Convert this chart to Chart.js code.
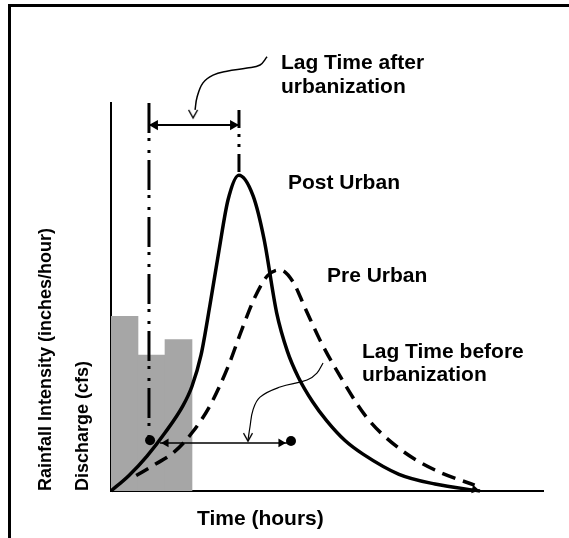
<!DOCTYPE html>
<html>
<head>
<meta charset="utf-8">
<script src="https://cdn.jsdelivr.net/npm/chart.js@4.4.1/dist/chart.umd.min.js"></script>
<style>
  html, body { margin: 0; padding: 0; background: #fff; }
  #wrap { position: relative; width: 569px; height: 538px; overflow: hidden; }
  #frame { position: absolute; left: 8px; top: 4px; width: 600px; height: 600px; border-top: 3px solid #000; border-left: 3px solid #000; }
  canvas { position: absolute; left: 0; top: 0; }
</style>
</head>
<body>
<div id="wrap">
  <div id="frame"></div>
  <canvas id="myChart" width="569" height="538"></canvas>
</div>
<script>
// Hietograma (bloques de lluvia)
const rainTime = [0.75, 2.25, 3.75];
const rainIntensity = [45, 35, 39];

// Hidrograma post urbano
const postTime = [0, 1, 2, 3, 4, 4.5, 5, 5.5, 6, 6.5, 7.1, 7.9, 8.5, 9.2, 9.8, 10.4, 11.2, 12, 13, 14, 16, 18, 20.5];
const postFlow = [0, 4, 9, 15, 22, 27, 35, 48, 62, 75, 81.4, 76, 65, 46, 36, 29.4, 23, 18, 13, 9.5, 4.3, 1.8, 0];

// Hidrograma pre urbano
const preTime = [1.4, 2.5, 3.5, 4.5, 5.5, 6.5, 7.3, 8, 8.7, 9.4, 10.1, 10.8, 11.6, 12.8, 14.2, 16, 18, 20.2];
const preFlow = [4, 7, 10, 15, 22, 32, 42, 50, 55.5, 57, 54, 47, 39, 29, 19, 11, 5.4, 1.5];

// Tiempos de retardo
const rainCenterTime = 2.11;
const postPeakTime = 7.11;
const prePeakTime = 10.0;
const lagAfterLevel = 94.3;
const lagBeforeLevel = 12.4;

// Flechas curvas de las notas
const noteAfterX = [4.67, 4.78, 5.11, 5.67, 6.44, 7.56, 8.28, 8.67];
const noteAfterY = [98.2, 101.5, 105.2, 107.2, 108.2, 109.0, 109.8, 111.9];
const noteBeforeX = [7.61, 7.72, 7.89, 8.28, 9.39, 10.89, 11.44, 11.78];
const noteBeforeY = [13.1, 16.5, 20.9, 24.2, 26.8, 28.6, 30.4, 33.0];

const notes = [
    { text: 'Lag Time after', x: 9.44, y: 108.8 },
    { text: 'urbanization', x: 9.44, y: 102.6 },
    { text: 'Post Urban', x: 9.83, y: 77.8 },
    { text: 'Pre Urban', x: 12, y: 53.9 },
    { text: 'Lag Time before', x: 13.94, y: 34.3 },
    { text: 'urbanization', x: 13.94, y: 28.4 }
];

function xy(xs, ys) {
    return xs.map((x, i) => ({ x: x, y: ys[i] }));
}

function chevron() {
    const c = document.createElement('canvas');
    c.width = 12;
    c.height = 12;
    const g = c.getContext('2d');
    g.strokeStyle = '#000';
    g.lineWidth = 1.4;
    g.beginPath();
    g.moveTo(1.5, 2);
    g.lineTo(6, 10);
    g.lineTo(10.5, 2);
    g.stroke();
    return c;
}

const FONT = '"Liberation Sans", Arial, sans-serif';

const textPlugin = {
    id: 'textPlugin',
    afterDatasetsDraw(chart) {
        const ctx = chart.ctx;
        const xs = chart.scales.x;
        const ys = chart.scales.y;
        const area = chart.chartArea;
        ctx.save();
        ctx.fillStyle = '#000';
        ctx.textAlign = 'left';
        ctx.textBaseline = 'alphabetic';
        ctx.font = 'bold 21px ' + FONT;
        notes.forEach(n => {
            ctx.fillText(n.text, xs.getPixelForValue(n.x), ys.getPixelForValue(n.y));
        });
        ctx.fillText('Time (hours)', area.left + 86, area.bottom + 34);

        ctx.font = 'bold 18px ' + FONT;
        ctx.save();
        ctx.translate(area.left - 60, area.bottom);
        ctx.rotate(-Math.PI / 2);
        ctx.fillText('Rainfall Intensity (inches/hour)', 0, 0);
        ctx.restore();
        ctx.save();
        ctx.translate(area.left - 23, area.bottom);
        ctx.rotate(-Math.PI / 2);
        ctx.fillText('Discharge (cfs)', 0, 0);
        ctx.restore();
        ctx.restore();
    }
};

const lineBase = {
    type: 'line',
    borderColor: '#000',
    pointRadius: 0,
    fill: false,
    clip: false
};

const ctx = document.getElementById('myChart').getContext('2d');
const myChart = new Chart(ctx, {
    type: 'line',
    data: {
        datasets: [
            {
                type: 'bar',
                data: xy(rainTime, rainIntensity),
                backgroundColor: '#a6a6a6',
                borderWidth: 0,
                barPercentage: 1,
                categoryPercentage: 1,
                order: 10
            },
            Object.assign({}, lineBase, {
                data: xy(postTime, postFlow),
                borderWidth: 3.5,
                cubicInterpolationMode: 'monotone'
            }),
            Object.assign({}, lineBase, {
                data: xy(preTime, preFlow),
                borderWidth: 3.5,
                borderDash: [14, 8],
                cubicInterpolationMode: 'monotone'
            }),
            // lineas de trazo y punto
            Object.assign({}, lineBase, {
                data: [{ x: rainCenterTime, y: 100 }, { x: rainCenterTime, y: 13.1 }],
                borderWidth: 3,
                borderDash: [30, 5, 3, 9, 3, 7]
            }),
            Object.assign({}, lineBase, {
                data: [{ x: postPeakTime, y: 98.2 }, { x: postPeakTime, y: 81.4 }],
                borderWidth: 3,
                borderDash: [18, 6, 3, 7, 3, 7]
            }),
            // flecha superior
            Object.assign({}, lineBase, {
                data: [{ x: rainCenterTime, y: lagAfterLevel }, { x: postPeakTime, y: lagAfterLevel }],
                borderWidth: 2
            }),
            Object.assign({}, lineBase, {
                data: [{ x: 2.44, y: lagAfterLevel }, { x: 6.78, y: lagAfterLevel }],
                showLine: false,
                pointStyle: 'triangle',
                pointRadius: 6,
                pointBackgroundColor: '#000',
                pointBorderWidth: 0,
                pointRotation: c => [270, 90][c.dataIndex]
            }),
            // flecha inferior
            Object.assign({}, lineBase, {
                data: [{ x: 2.72, y: lagBeforeLevel }, { x: 9.78, y: lagBeforeLevel }],
                borderWidth: 1.5
            }),
            Object.assign({}, lineBase, {
                data: [{ x: 3.06, y: lagBeforeLevel }, { x: 9.44, y: lagBeforeLevel }, { x: 20.2, y: 0.4 }],
                showLine: false,
                pointStyle: 'triangle',
                pointRadius: 5,
                pointBackgroundColor: '#000',
                pointBorderWidth: 0,
                pointRotation: c => [270, 90, 102][c.dataIndex]
            }),
            Object.assign({}, lineBase, {
                data: [{ x: rainCenterTime + 0.06, y: 13.1 }, { x: prePeakTime, y: 12.9 }],
                showLine: false,
                pointStyle: 'circle',
                pointRadius: 5,
                pointBackgroundColor: '#000',
                pointBorderWidth: 0
            }),
            // notas con flecha curva
            Object.assign({}, lineBase, {
                data: xy(noteAfterX, noteAfterY),
                borderWidth: 1.5,
                tension: 0.4
            }),
            Object.assign({}, lineBase, {
                data: xy(noteBeforeX, noteBeforeY),
                borderWidth: 1.2,
                tension: 0.4
            }),
            Object.assign({}, lineBase, {
                data: [{ x: 4.56, y: 97.2 }, { x: 7.61, y: 13.9 }],
                showLine: false,
                pointStyle: chevron(),
                pointRadius: 6
            })
        ]
    },
    options: {
        responsive: false,
        animation: false,
        events: [],
        layout: {
            padding: { left: 111, right: 26, top: 103, bottom: 47 }
        },
        plugins: {
            legend: { display: false },
            tooltip: { enabled: false },
            title: { display: false }
        },
        scales: {
            x: {
                type: 'linear',
                min: 0,
                max: 24,
                offset: false,
                ticks: { display: false, stepSize: 1.5 },
                grid: { display: false, drawTicks: false },
                border: { display: true, color: '#000', width: 2 }
            },
            y: {
                type: 'linear',
                min: 0,
                max: 100,
                ticks: { display: false },
                grid: { display: false, drawTicks: false },
                border: { display: true, color: '#000', width: 2 }
            }
        }
    },
    plugins: [textPlugin]
});
</script>
</body>
</html>
